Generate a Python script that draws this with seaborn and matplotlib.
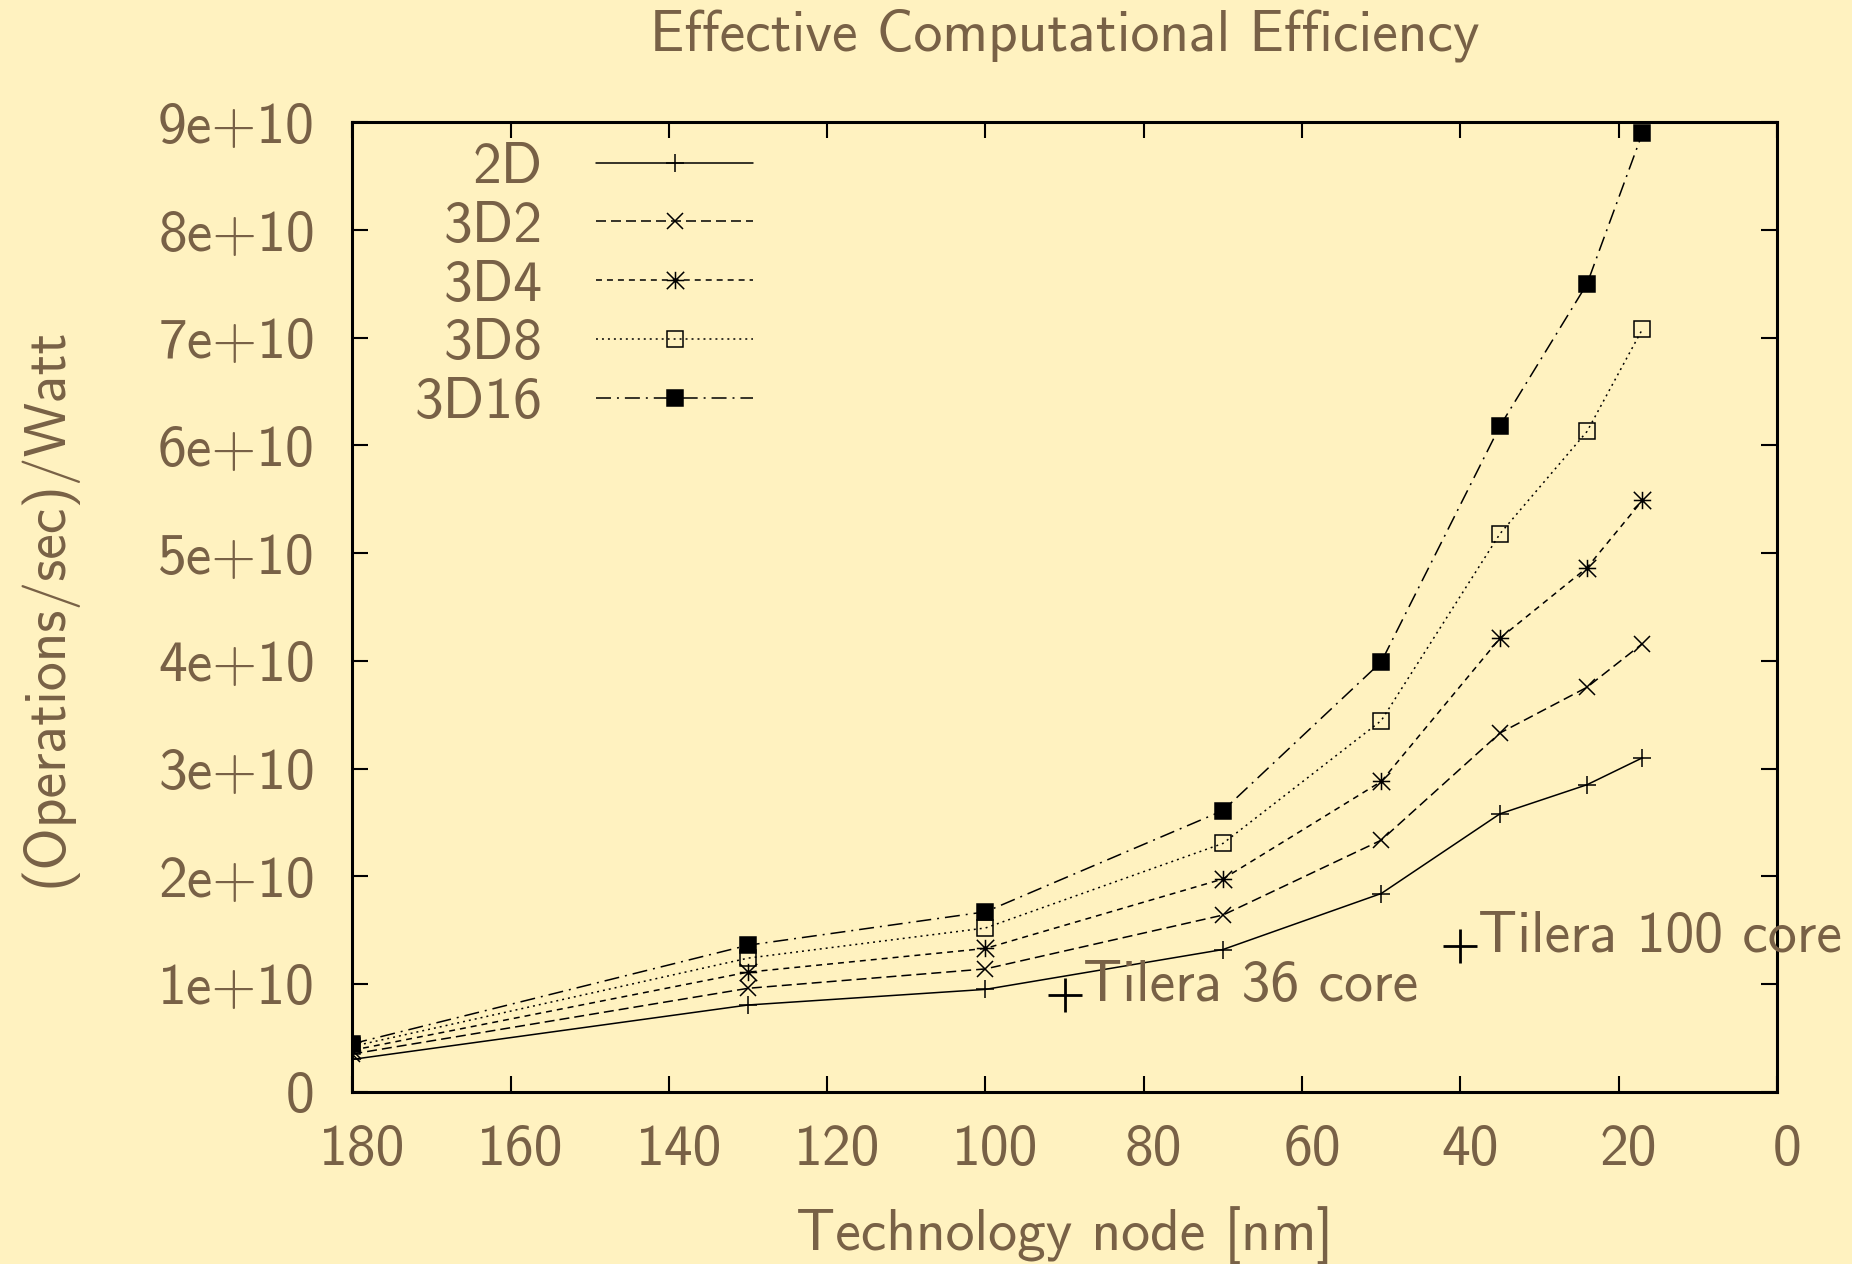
import matplotlib
matplotlib.use("Agg")
import matplotlib.pyplot as plt
import matplotlib.transforms as mtransforms
from matplotlib.path import Path
import seaborn as sns

# ---------------- data ----------------
nodes = [180, 130, 100, 70, 50, 35, 24, 17]
series_names = ["2D", "3D2", "3D4", "3D8", "3D16"]
eff_2d = [3.0e9, 8.05e9, 9.5e9, 1.32e10, 1.84e10, 2.58e10, 2.85e10, 3.10e10]
eff_3d2 = [3.5e9, 9.6e9, 1.14e10, 1.64e10, 2.335e10, 3.33e10, 3.755e10, 4.16e10]
eff_3d4 = [3.85e9, 1.11e10, 1.33e10, 1.975e10, 2.88e10, 4.21e10, 4.865e10, 5.49e10]
eff_3d8 = [4.2e9, 1.24e10, 1.52e10, 2.305e10, 3.445e10, 5.18e10, 6.13e10, 7.08e10]
eff_3d16 = [4.45e9, 1.36e10, 1.67e10, 2.61e10, 3.99e10, 6.18e10, 7.50e10, 8.90e10]
series_values = [eff_2d, eff_3d2, eff_3d4, eff_3d8, eff_3d16]

tilera_nodes = [90, 40]
tilera_eff = [9.0e9, 1.355e10]
tilera_labels = ["Tilera 36 core", "Tilera 100 core"]

x_ticks = [180, 160, 140, 120, 100, 80, 60, 40, 20, 0]
x_tick_labels = ["180", "160", "140", "120", "100", "80", "60", "40", "20", "0"]
y_ticks = [0, 1e10, 2e10, 3e10, 4e10, 5e10, 6e10, 7e10, 8e10, 9e10]
y_tick_labels = ["0", "1e+10", "2e+10", "3e+10", "4e+10", "5e+10",
                 "6e+10", "7e+10", "8e+10", "9e+10"]

title_text = "Effective Computational Efficiency"
x_label = "Technology node [nm]"
y_label = "(Operations/sec)/Watt"

# ---------------- style ----------------
BG = "#FFF2C0"
TXT = "#786146"
FS = 41.5

sns.set_theme(style="ticks")
plt.rcParams["font.family"] = ["cmss10", "DejaVu Sans"]
plt.rcParams["axes.formatter.use_mathtext"] = True
plt.rcParams["lines.scale_dashes"] = False
plt.rcParams["figure.facecolor"] = BG
plt.rcParams["axes.facecolor"] = BG

asterisk = Path([(-1, 0), (1, 0), (0, -1), (0, 1), (-1, -1), (1, 1), (-1, 1), (1, -1)],
                [Path.MOVETO, Path.LINETO] * 4)

styles = {
    "2D": dict(marker="+", ls="-", ms=12.5, mfc="none"),
    "3D2": dict(marker="x", ls=(0, (7.2, 3.6)), ms=11.5, mfc="none"),
    "3D4": dict(marker=asterisk, ls=(0, (4.3, 3.6)), ms=12.5, mfc="none"),
    "3D8": dict(marker="s", ls=(0, (1.4, 2.9)), ms=11.5, mfc="none"),
    "3D16": dict(marker="s", ls=(0, (10.8, 4.3, 1.4, 4.3)), ms=11.5, mfc="black"),
}

W, H = 1852, 1264
fig = plt.figure(figsize=(W / 100, H / 100), dpi=100)
L, R, T, B = 352.3, 1777.0, 122.3, 1091.7
ax = fig.add_axes([L / W, 1 - B / H, (R - L) / W, (B - T) / H])
ax.set_facecolor(BG)

for name, vals in zip(series_names, series_values):
    st = styles[name]
    sns.lineplot(x=nodes, y=vals, ax=ax, color="black", linewidth=1.1,
                 linestyle=st["ls"], marker=st["marker"], markersize=st["ms"],
                 markerfacecolor=st["mfc"], markeredgecolor="black",
                 markeredgewidth=1.1, label=name, errorbar=None, sort=False)

sns.scatterplot(x=tilera_nodes, y=tilera_eff, ax=ax, marker="+", s=24 ** 2,
                color="black", linewidth=2.0, legend=False)
for xv, yv, lbl in zip(tilera_nodes, tilera_eff, tilera_labels):
    ax.annotate(lbl, xy=(xv, yv), xytext=(13, -4.5), textcoords="offset points",
                ha="left", va="baseline", fontsize=FS, color=TXT)

ax.set_xlim(180, 0)
ax.set_ylim(0, 9e10)
ax.set_xticks(x_ticks)
ax.set_xticklabels(x_tick_labels)
ax.set_yticks(y_ticks)
ax.set_yticklabels(y_tick_labels)
ax.minorticks_off()

for sp in ax.spines.values():
    sp.set_visible(True)
    sp.set_linewidth(2.2)
    sp.set_color("black")

ax.tick_params(axis="both", which="major", direction="in", length=11.5, width=1.5,
               color="black", labelcolor=TXT, labelsize=FS,
               top=True, right=True, bottom=True, left=True)
ax.tick_params(axis="x", pad=23.4)
ax.tick_params(axis="y", pad=26.9)

# gnuplot places x tick labels slightly right of the tick
shift = mtransforms.ScaledTranslation(7.2 / 72, 0, fig.dpi_scale_trans)
for lab in ax.get_xticklabels():
    lab.set_transform(lab.get_transform() + shift)

ax.set_xlabel(x_label, fontsize=FS, color=TXT)
ax.set_ylabel(y_label, fontsize=FS, color=TXT)
ax.xaxis.set_label_coords(0.5, (B - 1206) / (B - T))
ax.yaxis.set_label_coords((77 - L) / (R - L), 0.5)
ax.set_title(title_text, fontsize=FS, color=TXT, y=(B - 50) / (B - T), pad=0)

handles, labels = ax.get_legend_handles_labels()
hl = [(h, l) for h, l in zip(handles, labels) if l in series_names]
leg = ax.legend([h for h, _ in hl], [l for _, l in hl],
                loc="upper right", bbox_to_anchor=((752.7 - L) / (R - L), (B - 141.7) / (B - T)),
                frameon=False, markerfirst=False, numpoints=1, handlelength=2.71,
                handletextpad=0.93, labelspacing=0.12, borderpad=0, borderaxespad=0,
                fontsize=FS, labelcolor=TXT)

fig.savefig("out.png", dpi=100, facecolor=BG)
